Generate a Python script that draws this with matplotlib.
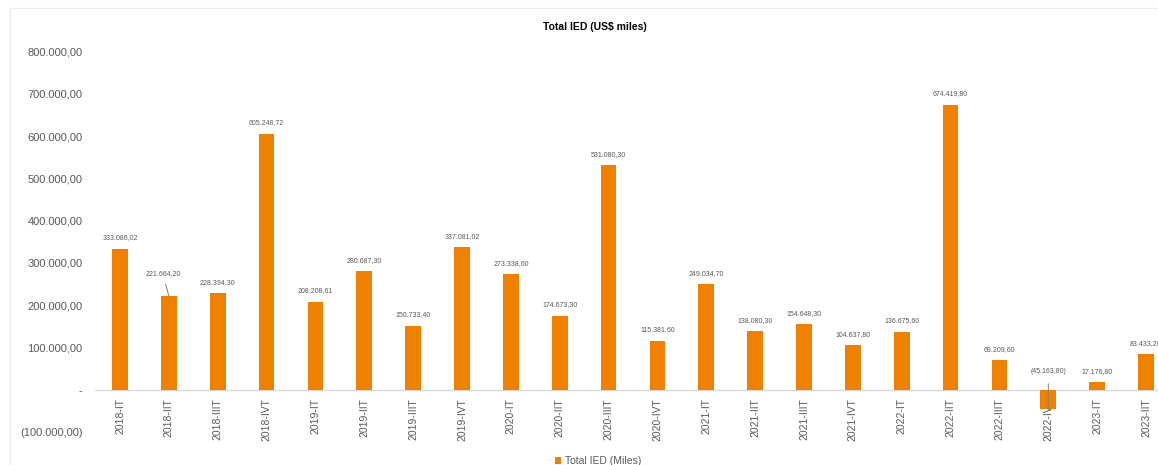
import matplotlib.pyplot as plt
from matplotlib.patches import Rectangle
from matplotlib.ticker import FuncFormatter

plt.rcParams.update({
    'font.family': ['Liberation Sans', 'DejaVu Sans'],
    'figure.facecolor': 'white',
    'axes.facecolor': 'white',
})

# Trimestres
categorias = [
    '2018-IT', '2018-IIT', '2018-IIIT', '2018-IVT',
    '2019-IT', '2019-IIT', '2019-IIIT', '2019-IVT',
    '2020-IT', '2020-IIT', '2020-IIIT', '2020-IVT',
    '2021-IT', '2021-IIT', '2021-IIIT', '2021-IVT',
    '2022-IT', '2022-IIT', '2022-IIIT', '2022-IVT',
    '2023-IT', '2023-IIT',
]
# Total IED (US$ miles)
total_ied = [
    333086.02, 221664.20, 228394.30, 605248.72,
    208208.61, 280687.30, 150733.40, 337081.02,
    273338.60, 174673.30, 531080.30, 115381.60,
    249034.70, 138080.30, 154648.30, 104637.80,
    136675.60, 674419.80, 69209.60, -45163.80,
    17176.80, 83433.20,
]
yticks = [-100000, 0, 100000, 200000, 300000, 400000, 500000, 600000, 700000, 800000]

COLOR = '#F08000'
GRAY = '#595959'


def fmt_num(v, _pos=None):
    if abs(v) < 1e-9:
        return '-'
    s = f'{abs(v):,.2f}'.replace(',', 'X').replace('.', ',').replace('X', '.')
    return f'({s})' if v < 0 else s


def plot_ied():
    fig = plt.figure(figsize=(11.58, 4.65), dpi=100)
    W, H = 1158, 465

    # marco del gráfico
    fig.patches.append(Rectangle((10 / W, 0), 1.2, 1 - 8 / H, transform=fig.transFigure,
                                 fill=False, edgecolor='#ececec', linewidth=0.8))

    ax = fig.add_axes([95 / W, 1 - 432 / H, (W - 95) / W, (432 - 51.5) / H])
    x = list(range(len(categorias)))
    ax.bar(x, total_ied, width=0.32, color=COLOR, zorder=2, label='Total IED (Miles)')

    ax.set_xlim(-0.512, 21.245)
    ax.set_ylim(-100000, 800000)
    ax.set_yticks(yticks)
    ax.yaxis.set_major_formatter(FuncFormatter(fmt_num))

    for s in ['top', 'right', 'left']:
        ax.spines[s].set_visible(False)
    ax.spines['bottom'].set_position(('data', 0))
    ax.spines['bottom'].set_color('#d9d9d9')
    ax.spines['bottom'].set_linewidth(1.0)
    ax.spines['bottom'].set_zorder(1)

    ax.set_xticks(x)
    ax.set_xticklabels(categorias, rotation=90, fontsize=7.5, color=GRAY)
    ax.tick_params(axis='x', length=0, pad=6)
    ax.tick_params(axis='y', length=0, pad=9, labelsize=8, labelcolor=GRAY)

    # etiquetas de datos
    for i, v in enumerate(total_ied):
        lbl = fmt_num(v)
        if i == 1:
            ax.annotate(lbl, xy=(i, v), xytext=(-6, 22), textcoords='offset pixels',
                        ha='center', va='center', fontsize=5, color=GRAY,
                        arrowprops=dict(arrowstyle='-', color='#7f7f7f', lw=0.7,
                                        shrinkA=3, shrinkB=0))
        elif v < 0:
            ax.annotate(lbl, xy=(i, v * 1.1), xytext=(i, 42000), textcoords='data',
                        ha='center', va='center', fontsize=5, color=GRAY,
                        arrowprops=dict(arrowstyle='-', color='#7f7f7f', lw=0.7,
                                        shrinkA=4, shrinkB=0))
        else:
            ax.annotate(lbl, xy=(i, v), xytext=(0, 11), textcoords='offset pixels',
                        ha='center', va='center', fontsize=5, color=GRAY)

    fig.text(595 / W, 1 - 27 / H, 'Total IED (US$ miles)', ha='center', va='center',
             fontsize=7.5, fontweight='bold', color='black')

    fig.legend(loc='center', bbox_to_anchor=(598 / W, 1 - 461 / H), frameon=False,
               fontsize=7.5, labelcolor=GRAY, handlelength=0.6, handleheight=0.6,
               handletextpad=0.4)

    fig.savefig('out.png', dpi=100)


if __name__ == '__main__':
    plot_ied()
